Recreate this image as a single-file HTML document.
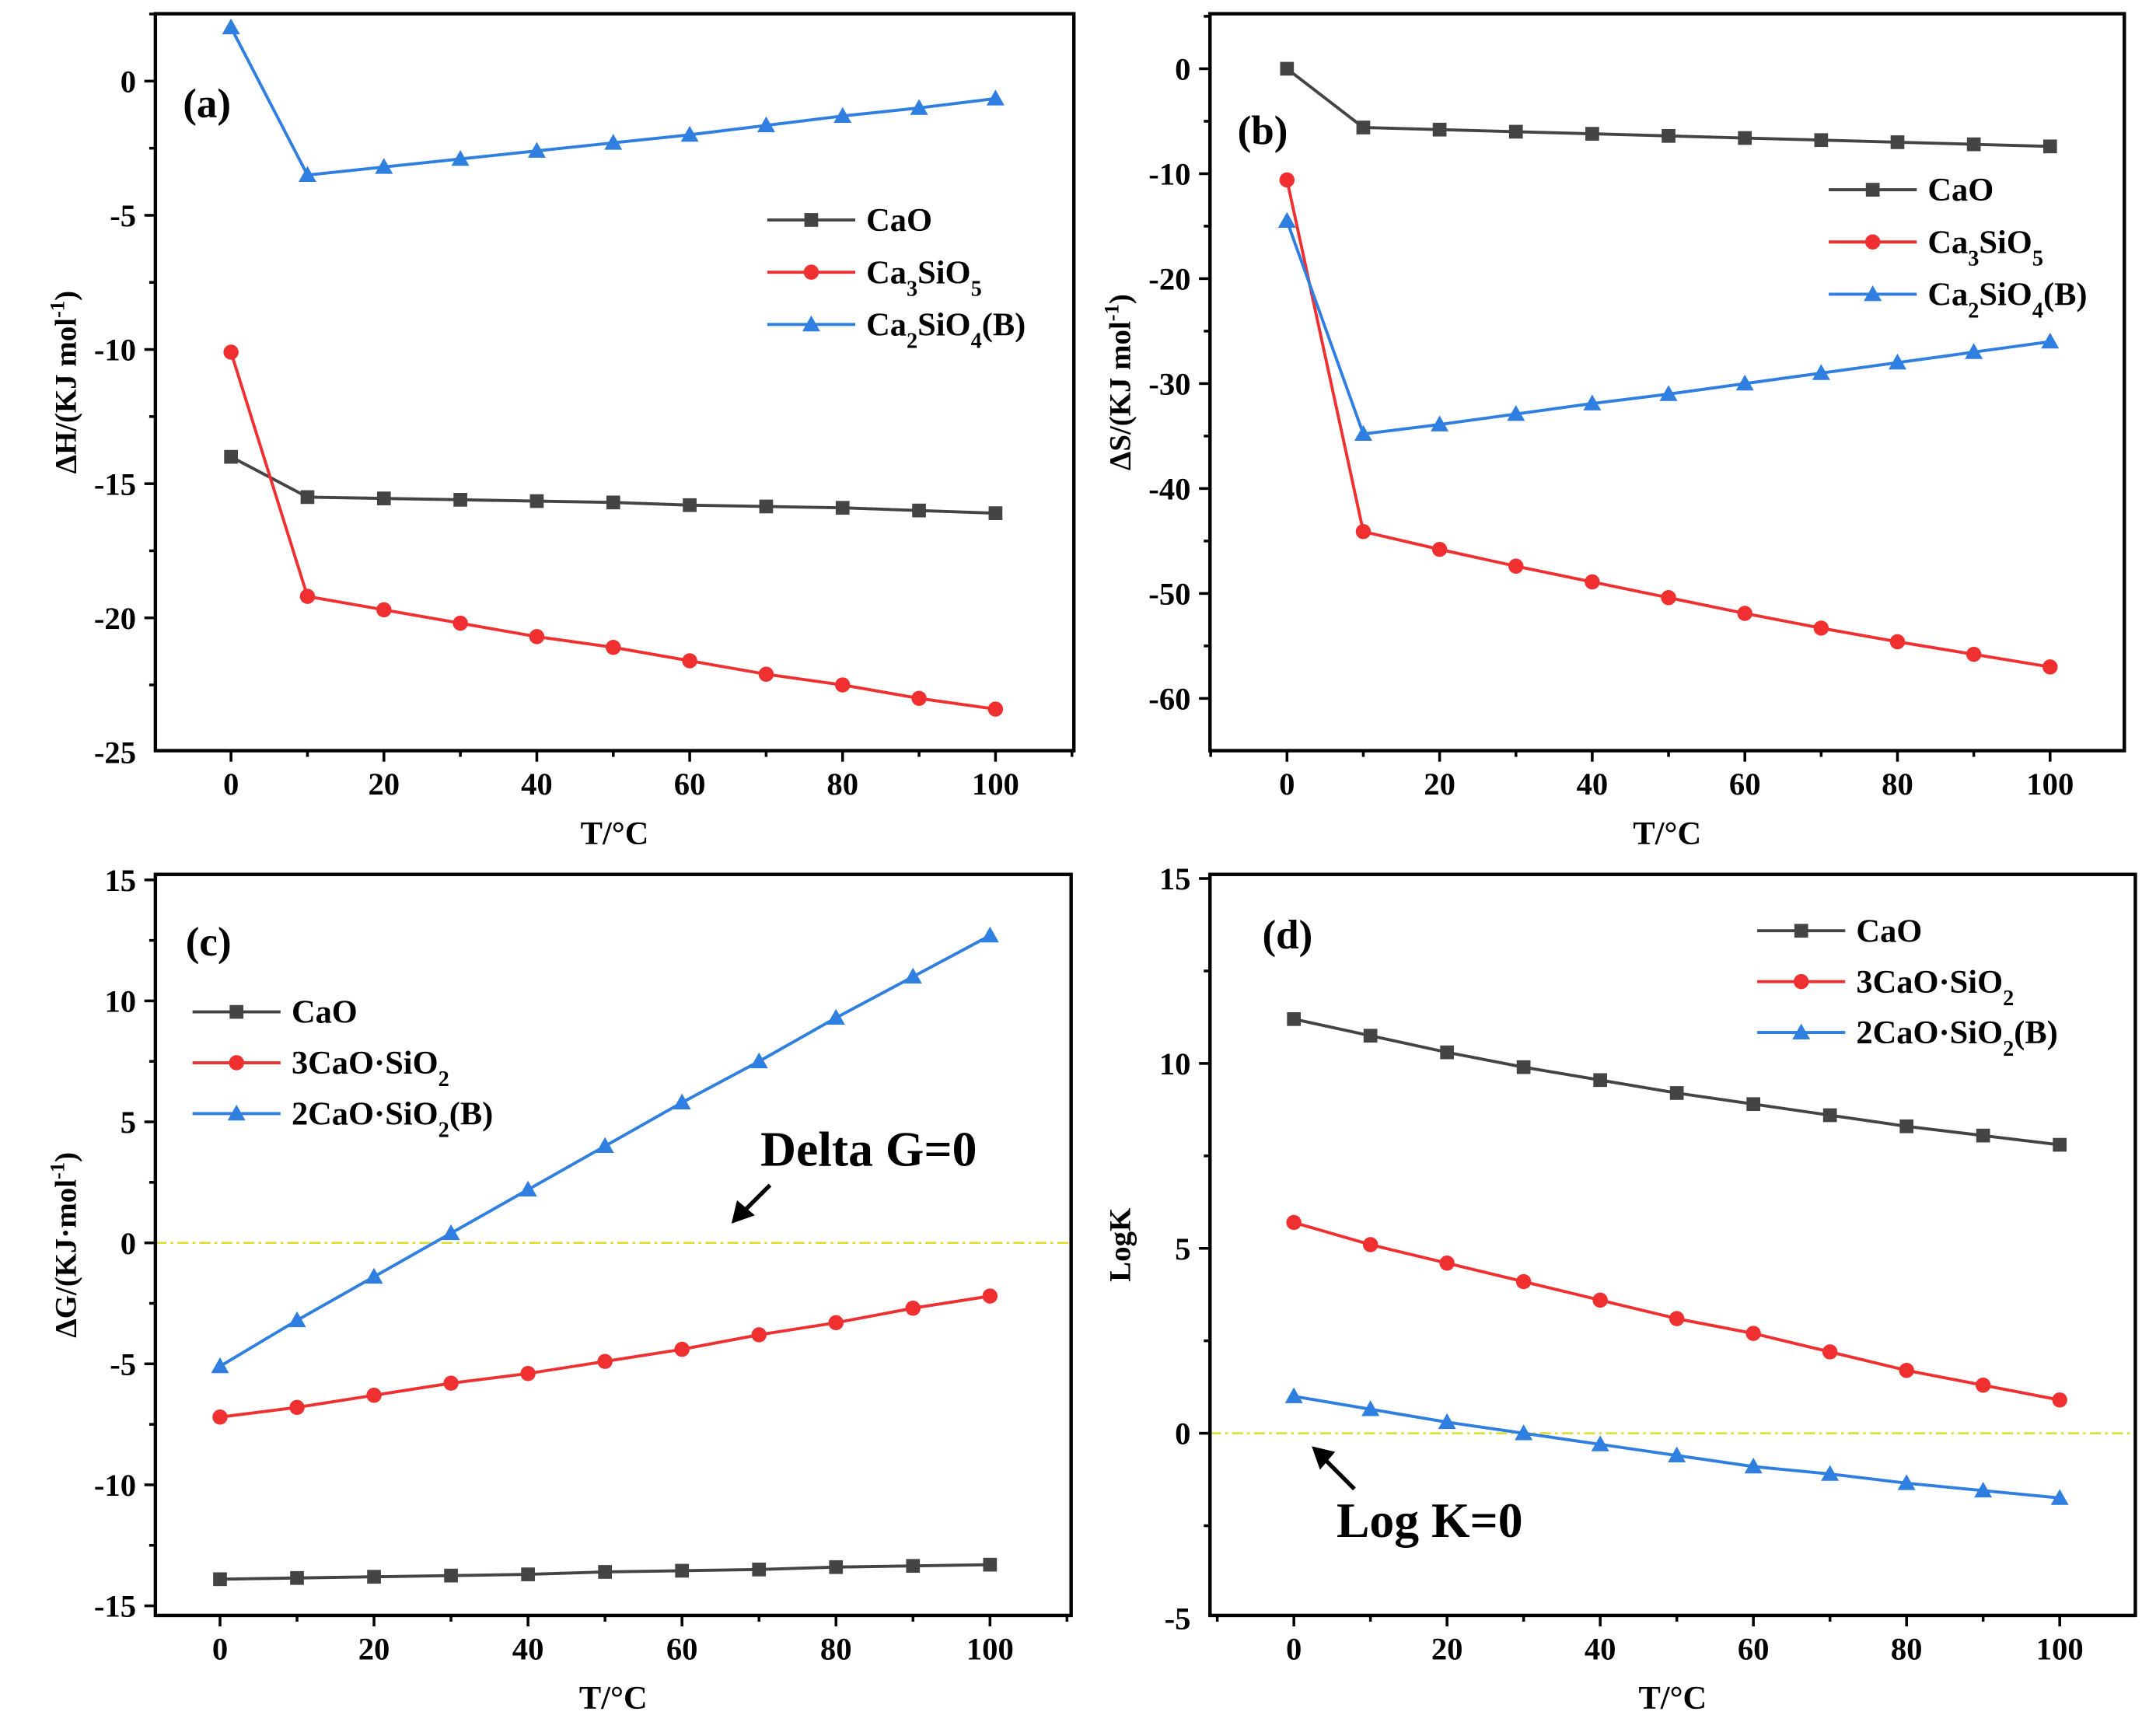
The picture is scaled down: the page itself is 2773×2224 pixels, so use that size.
<!DOCTYPE html>
<html><head><meta charset="utf-8"><style>
html,body{margin:0;padding:0;background:#fff}
svg{display:block}
text{font-family:"Liberation Serif",serif;font-weight:bold;fill:#000}
</style></head><body>
<svg id="s" width="2773" height="2224" viewBox="0 0 1568 1257.6" xmlns="http://www.w3.org/2000/svg"></svg>
<script>
const temps=[0,10,20,30,40,50,60,70,80,90,100];
const aCaO=[-14,-15.5,-15.55,-15.6,-15.65,-15.7,-15.8,-15.85,-15.9,-16.0,-16.1];
const aC3S=[-10.1,-19.2,-19.7,-20.2,-20.7,-21.1,-21.6,-22.1,-22.5,-23.0,-23.4];
const aC2S=[2,-3.5,-3.2,-2.9,-2.6,-2.3,-2.0,-1.65,-1.3,-1.0,-0.65];
const bCaO=[0,-5.6,-5.8,-6.0,-6.2,-6.4,-6.6,-6.8,-7.0,-7.2,-7.4];
const bC3S=[-10.6,-44.1,-45.8,-47.4,-48.9,-50.4,-51.9,-53.3,-54.6,-55.8,-57.0];
const bC2S=[-14.5,-34.8,-33.9,-32.9,-31.9,-31.0,-30.0,-29.0,-28.0,-27.0,-26.0];
const cCaO=[-13.9,-13.85,-13.8,-13.75,-13.7,-13.6,-13.55,-13.5,-13.4,-13.35,-13.3];
const cC3S=[-7.2,-6.8,-6.3,-5.8,-5.4,-4.9,-4.4,-3.8,-3.3,-2.7,-2.2];
const cC2S=[-5.1,-3.2,-1.4,0.4,2.2,4.0,5.8,7.5,9.3,11.0,12.7];
const dCaO=[11.2,10.75,10.3,9.9,9.55,9.2,8.9,8.6,8.3,8.05,7.8];
const dC3S=[5.7,5.1,4.6,4.1,3.6,3.1,2.7,2.2,1.7,1.3,0.9];
const dC2S=[1.0,0.65,0.3,0.0,-0.3,-0.6,-0.9,-1.1,-1.35,-1.55,-1.75];
const xTicks=[0,20,40,60,80,100];
const aTicks=[0,-5,-10,-15,-20,-25];
const bTicks=[0,-10,-20,-30,-40,-50,-60];
const cTicks=[15,10,5,0,-5,-10,-15];
const dTicks=[15,10,5,0,-5];

const S=document.getElementById('s');const NS='http://www.w3.org/2000/svg';
function el(t,a,p){const e=document.createElementNS(NS,t);for(const k in a)e.setAttribute(k,a[k]);(p||S).appendChild(e);return e;}
const COL={k:'#444',r:'#f03030',b:'#2f7fe0'};
function marker(g,type,x,y,c){
  let m;
  if(type==='s')m=el('rect',{x:x-5,y:y-5,width:10,height:10,fill:c},g);
  else if(type==='c')m=el('circle',{cx:x,cy:y,r:5.5,fill:c},g);
  else m=el('polygon',{points:`${x},${y-6.5} ${x-6.5},${y+5} ${x+6.5},${y+5}`,fill:c},g);
  
  
}
function panel(P){
  const g=el('g',{});
  
  
  const X=v=>P.x0+(v-0)*(P.x100-P.x0)/100;
  const Y=v=>P.yA+(v-P.vA)*(P.yB-P.yA)/(P.vB-P.vA);
  if(P.zero!==undefined){const zl=el('line',{x1:P.L,x2:P.R,y1:Y(0),y2:Y(0),stroke:'#dede30','stroke-width':1.5,'stroke-dasharray':'8 3 2 3'},g);
    }
  P.series.forEach(s=>{
    const pts=temps.map((t,i)=>X(t)+','+Y(s.v[i])).join(' ');
    const pl=el('polyline',{points:pts,fill:'none',stroke:COL[s.c],'stroke-width':2.2},g);
    
    
    temps.forEach((t,i)=>marker(g,s.m,X(t),Y(s.v[i]),COL[s.c]));
  });
  const box=el('rect',{x:P.L,y:P.T,width:P.R-P.L,height:P.B-P.T,fill:'none',stroke:'#000','stroke-width':2.5},g);
  
  for(let v=-10;v<=110;v+=10){const x=X(v);if(x<P.L||x>P.R)continue;const maj=v%20===0;
    el('line',{x1:x,x2:x,y1:P.B,y2:P.B+(maj?8:4.5),stroke:'#000','stroke-width':2},g);}
  xTicks.forEach(v=>{const t=el('text',{x:X(v),y:P.B+32,'text-anchor':'middle','font-size':23},g);t.textContent=v;
    });
  const step=P.ticks[0]-P.ticks[1];
  const lo=Math.min(...P.ticks),hi=Math.max(...P.ticks);
  for(let v=lo-step;v<=hi+step;v+=step/2){const y=Y(v);if(y<P.T||y>P.B)continue;const maj=Math.abs((v/step)-Math.round(v/step))<1e-6;
    el('line',{x1:P.L,x2:P.L-(maj?8:4.5),y1:y,y2:y,stroke:'#000','stroke-width':2},g);}
  P.ticks.forEach(v=>{const t=el('text',{x:P.L-14,y:Y(v)+8,'text-anchor':'end','font-size':23},g);t.textContent=v;
    });
  const xt=el('text',{x:(P.L+P.R)/2,y:P.B+68,'text-anchor':'middle','font-size':24},g);xt.textContent='T/°C';
  
  const yt=el('text',{x:0,y:0,'text-anchor':'middle','font-size':22,transform:`translate(${P.L-58},${(P.T+P.B)/2}) rotate(-90)`},g);yt.innerHTML=P.ytitle;
  
  const lb=el('text',{x:P.lab[0],y:P.lab[1],'font-size':30},g);lb.textContent='('+P.id+')';
  
  P.series.forEach((s,i)=>{const ly=P.leg[1]+i*P.leg[2];const lx=P.leg[0];
    const lg=el('g',{},g);
    el('line',{x1:lx,x2:lx+64,y1:ly,y2:ly,stroke:COL[s.c],'stroke-width':2.2},lg);marker(lg,s.m,lx+32,ly,COL[s.c]);
    const t=el('text',{x:lx+72,y:ly+8,'font-size':24},lg);t.innerHTML=s.name;});
  return {X,Y,g};
}
const sub=(a)=>`<tspan baseline-shift="sub" font-size="16">${a}</tspan>`;
panel({id:'a',L:113,R:781,T:10,B:546,x0:168,x100:724,yA:59,vA:0,yB:547,vB:-25,ticks:aTicks,lab:[133,85],leg:[558,160,38],
  ytitle:'ΔH/(KJ mol'+'<tspan baseline-shift="super" font-size="15">-1</tspan>)',
  series:[{v:aCaO,c:'k',m:'s',name:'CaO'},{v:aC3S,c:'r',m:'c',name:'Ca'+sub('3')+'SiO'+sub('5')},{v:aC2S,c:'b',m:'t',name:'Ca'+sub('2')+'SiO'+sub('4')+'(B)'}]});
panel({id:'b',L:880,R:1545,T:10,B:546,x0:936,x100:1491,yA:50,vA:0,yB:508,vB:-60,ticks:bTicks,lab:[900,105],leg:[1330,138,38],
  ytitle:'ΔS/(KJ mol'+'<tspan baseline-shift="super" font-size="15">-1</tspan>)',
  series:[{v:bCaO,c:'k',m:'s',name:'CaO'},{v:bC3S,c:'r',m:'c',name:'Ca'+sub('3')+'SiO'+sub('5')},{v:bC2S,c:'b',m:'t',name:'Ca'+sub('2')+'SiO'+sub('4')+'(B)'}]});
const pc=panel({id:'c',L:113,R:779,T:636,B:1175,x0:160,x100:720,yA:640,vA:15,yB:1168,vB:-15,zero:1,ticks:cTicks,lab:[135,695],leg:[140,736,37],
  ytitle:'ΔG/(KJ·mol'+'<tspan baseline-shift="super" font-size="15">-1</tspan>)',
  series:[{v:cCaO,c:'k',m:'s',name:'CaO'},{v:cC3S,c:'r',m:'c',name:'3CaO·SiO'+sub('2')},{v:cC2S,c:'b',m:'t',name:'2CaO·SiO'+sub('2')+'(B)'}]});
const pd=panel({id:'d',L:880,R:1553,T:636,B:1175,x0:941,x100:1498,yA:639,vA:15,yB:1177,vB:-5,zero:1,ticks:dTicks,lab:[918,690],leg:[1278,677,37],
  ytitle:'LogK',
  series:[{v:dCaO,c:'k',m:'s',name:'CaO'},{v:dC3S,c:'r',m:'c',name:'3CaO·SiO'+sub('2')},{v:dC2S,c:'b',m:'t',name:'2CaO·SiO'+sub('2')+'(B)'}]});
const t1=el('text',{x:553,y:848,'font-size':36});t1.textContent='Delta G=0';

const a1=el('g',{});
el('line',{x1:560,y1:862,x2:540,y2:882,stroke:'#000','stroke-width':3},a1);
el('polygon',{points:'532,890 536,873 549,884',fill:'#000'},a1);
const t2=el('text',{x:972,y:1118,'font-size':36});t2.textContent='Log K=0';

const a2=el('g',{});
el('line',{x1:985,y1:1083,x2:962,y2:1060,stroke:'#000','stroke-width':3},a2);
el('polygon',{points:'954,1052 971,1056 960,1069',fill:'#000'},a2);
</script>
</body></html>
